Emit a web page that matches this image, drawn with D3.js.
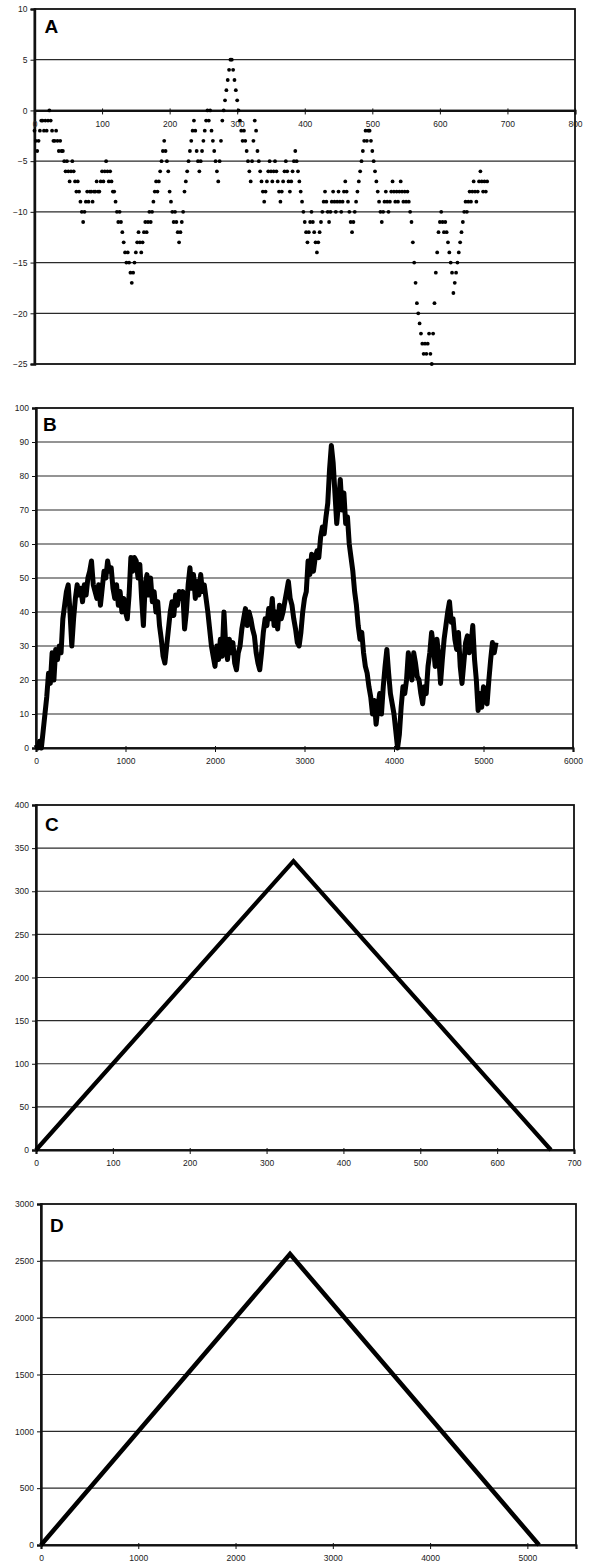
<!DOCTYPE html>
<meta charset="utf-8">
<head>
<script src="https://d3js.org/d3.v7.min.js"></script>
<style>
  body { margin: 0; background: #fff; font-family: "Liberation Sans", Arial, sans-serif; }
  .tick text { font-size: 8.5px; fill: #222; font-family: "Liberation Sans", Arial, sans-serif; }
</style>
</head>
<body>
<svg></svg>
<script>

// Panel A: one value every 2 positions, starting at 0
var aStep = 2;
var aY = [
  -2,-3,-4,-3,-2,-1,-1,-2,-1,-2,-1,
  0,-1,-2,-3,-3,-2,-3,-4,-3,-4,
  -4,-5,-6,-5,-6,-7,-6,-5,-6,-7,
  -8,-7,-8,-9,-10,-11,-10,-9,-8,-9,
  -8,-8,-9,-8,-8,-7,-8,-8,-7,-6,
  -7,-6,-5,-6,-7,-6,-7,-8,-8,-9,
  -10,-11,-10,-11,-12,-13,-14,-15,-14,-15,
  -16,-17,-16,-15,-14,-13,-12,-13,-14,-13,
  -12,-11,-12,-11,-10,-11,-10,-9,-8,-7,
  -8,-7,-6,-5,-4,-3,-4,-5,-6,-8,
  -9,-10,-11,-10,-11,-12,-13,-12,-11,-10,
  -8,-7,-6,-5,-4,-3,-2,-1,-2,-4,
  -5,-6,-5,-4,-3,-2,-1,0,-1,0,
  -2,-3,-4,-5,-6,-7,-5,-3,-1,0,
  1,2,3,4,5,5,4,3,2,1,
  0,-1,-2,-3,-2,-3,-4,-5,-6,-7,
  -5,-3,-1,-2,-4,-5,-6,-7,-8,-9,
  -8,-7,-6,-5,-6,-7,-6,-5,-6,-7,
  -8,-9,-8,-7,-6,-5,-6,-7,-8,-7,
  -6,-5,-4,-5,-6,-7,-8,-9,-10,-11,
  -12,-13,-12,-11,-10,-11,-12,-13,-14,-13,
  -12,-11,-10,-9,-8,-9,-10,-11,-10,-9,
  -8,-9,-10,-9,-8,-9,-10,-9,-8,-7,
  -8,-9,-10,-11,-12,-11,-10,-9,-8,-7,
  -6,-5,-4,-3,-2,-3,-2,-2,-3,-4,
  -5,-6,-7,-8,-9,-10,-11,-10,-9,-8,
  -9,-10,-9,-8,-7,-8,-9,-8,-9,-8,
  -7,-8,-9,-8,-9,-8,-9,-10,-11,-13,
  -15,-17,-19,-20,-21,-22,-23,-24,-23,-24,
  -23,-22,-24,-25,-22,-19,-16,-14,-12,-11,
  -10,-11,-12,-11,-12,-13,-14,-15,-16,-18,
  -17,-16,-15,-14,-13,-12,-11,-10,-9,-10,
  -9,-8,-9,-8,-7,-8,-9,-8,-7,-6,
  -7,-8,-7,-8,-7
];

// Panel B: one value every 20 positions, starting at 0
var bStep = 20;
var bY = [
  1,0,2,0,5,10,15,22,19,28,20,29,26,30,28,38,42,46,48,40,
  30,38,44,48,45,47,43,48,45,50,52,55,48,46,44,48,42,47,52,50,
  55,52,53,47,44,48,42,46,40,44,40,38,45,56,52,56,55,50,54,44,
  36,48,51,45,50,43,46,40,43,36,32,27,25,30,35,40,43,39,45,42,
  46,44,46,35,40,48,53,47,51,44,49,45,51,46,48,44,40,35,30,27,
  24,30,26,32,27,40,30,26,32,28,31,25,23,28,30,35,38,41,36,40,
  38,35,33,28,25,23,28,34,38,36,41,38,44,36,40,35,42,38,40,43,
  46,49,44,42,38,35,31,30,34,40,44,46,55,51,57,52,56,58,56,62,
  65,63,68,72,82,89,84,75,66,72,79,70,75,66,68,60,56,52,46,42,
  36,32,34,28,24,22,18,15,10,14,7,12,16,10,18,24,29,22,16,13,
  10,5,0,4,12,18,16,20,28,24,20,28,25,21,20,16,13,18,16,24,
  28,34,30,24,32,27,19,26,32,36,40,43,37,38,32,29,34,24,19,25,
  31,33,28,30,36,26,20,11,16,12,18,14,13,20,26,31,28,31
];

// Panel C and D: vertices of the path
var cX = [0, 335, 670];
var cY = [0, 335, 0];
var dX = [0, 2560, 5120];
var dY = [0, 2560, 0];

// tick values
var aYTicks = [-25, -20, -15, -10, -5, 0, 5, 10];
var aXTicks = [0, 100, 200, 300, 400, 500, 600, 700, 800];
var bYTicks = [0, 10, 20, 30, 40, 50, 60, 70, 80, 90, 100];
var bXTicks = [0, 1000, 2000, 3000, 4000, 5000, 6000];
var cYTicks = [0, 50, 100, 150, 200, 250, 300, 350, 400];
var cXTicks = [0, 100, 200, 300, 400, 500, 600, 700];
var dYTicks = [0, 500, 1000, 1500, 2000, 2500, 3000];
var dXTicks = [0, 1000, 2000, 3000, 4000, 5000];

var svg = d3.select('svg')
    .attr('width', 595)
    .attr('height', 1564);

var fmt = d3.format('d');

function panel(o) {
    var x = d3.scaleLinear().domain(o.xd).range([o.l, o.r]);
    var y = d3.scaleLinear().domain(o.yd).range([o.b, o.t]);
    var g = svg.append('g');

    // gridlines
    g.selectAll('.grid')
        .data(o.yt.filter(function (v) { return v != o.yd[0] && v != o.yd[1]; }))
        .enter().append('line')
        .attr('x1', o.l).attr('x2', o.r)
        .attr('y1', function (d) { return y(d); })
        .attr('y2', function (d) { return y(d); })
        .style('stroke', '#2a2a2a')
        .style('stroke-width', 1.2);

    // frame
    g.append('rect')
        .attr('x', o.l).attr('y', o.t)
        .attr('width', o.r - o.l).attr('height', o.b - o.t)
        .style('fill', 'none').style('stroke', '#111').style('stroke-width', 1.8);

    // y axis
    g.append('g')
        .attr('transform', 'translate(' + o.l + ',0)')
        .call(d3.axisLeft(y).tickValues(o.yt).tickFormat(fmt).tickSize(4).tickPadding(3))
        .call(function (s) {
            s.select('.domain').style('stroke', '#111').style('stroke-width', 2.4);
            s.selectAll('.tick line').style('stroke', '#111');
        });

    // x axis
    var xa = o.xAt == null ? o.b : y(o.xAt);
    g.append('g')
        .attr('transform', 'translate(0,' + xa + ')')
        .call(d3.axisBottom(x).tickValues(o.xt).tickFormat(fmt).tickSize(4).tickPadding(o.xpad || 6))
        .call(function (s) {
            s.select('.domain').style('stroke', '#111').style('stroke-width', 2.2);
            s.selectAll('.tick line').style('stroke', '#111').attr('y1', -2);
        });

    g.append('text')
        .attr('x', o.l + o.lx).attr('y', o.t + o.ly)
        .style('font-family', '"Liberation Sans", Arial, sans-serif')
        .style('font-weight', 'bold')
        .style('font-size', '19px')
        .text(o.name);

    return { g: g, x: x, y: y };
}

// A
var pa = panel({ name: 'A', l: 34.5, r: 575, t: 9, b: 364, xd: [0, 800], yd: [-25, 10],
    yt: aYTicks, xt: aXTicks, xAt: 0, lx: 10, ly: 24, xpad: 7 });
pa.g.selectAll('circle')
    .data(aY)
    .enter().append('circle')
    .attr('cx', function (d, i) { return pa.x(i * aStep); })
    .attr('cy', function (d) { return pa.y(d); })
    .attr('r', 1.9)
    .style('fill', '#000');

// B
var pb = panel({ name: 'B', l: 36, r: 573, t: 408, b: 748, xd: [0, 6000], yd: [0, 100],
    yt: bYTicks, xt: bXTicks, lx: 7, ly: 23 });
pb.g.append('path')
    .datum(bY)
    .attr('d', d3.line()
        .x(function (d, i) { return pb.x(i * bStep); })
        .y(function (d) { return pb.y(d); }))
    .style('fill', 'none')
    .style('stroke', '#000')
    .style('stroke-width', 5)
    .style('stroke-linejoin', 'round');

// C
var pc = panel({ name: 'C', l: 36, r: 574, t: 805, b: 1150, xd: [0, 700], yd: [0, 400],
    yt: cYTicks, xt: cXTicks, lx: 9, ly: 26 });
pc.g.append('path')
    .datum(d3.zip(cX, cY))
    .attr('d', d3.line()
        .x(function (d) { return pc.x(d[0]); })
        .y(function (d) { return pc.y(d[1]); }))
    .style('fill', 'none')
    .style('stroke', '#000')
    .style('stroke-width', 4.2);

// D
var pd = panel({ name: 'D', l: 41, r: 576, t: 1204, b: 1545, xd: [0, 5500], yd: [0, 3000],
    yt: dYTicks, xt: dXTicks, lx: 9, ly: 28 });
pd.g.append('path')
    .datum(d3.zip(dX, dY))
    .attr('d', d3.line()
        .x(function (d) { return pd.x(d[0]); })
        .y(function (d) { return pd.y(d[1]); }))
    .style('fill', 'none')
    .style('stroke', '#000')
    .style('stroke-width', 4.5);

</script>
</body>
</html>
